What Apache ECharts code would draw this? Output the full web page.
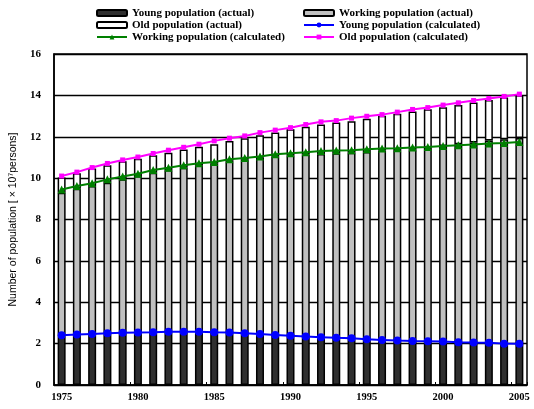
<!DOCTYPE html>
<html>
<head>
<meta charset="utf-8">
<script src="https://cdn.jsdelivr.net/npm/echarts@6/dist/echarts.min.js"></script>
<style>
  html, body { margin: 0; padding: 0; background: #fff; }
  #chart { width: 534px; height: 409px; }
</style>
</head>
<body>
<div id="chart"></div>
<script>
// Years on the category axis
const years = [];
for (let y = 1975; y <= 2005; y++) years.push(String(y));

// Actual population by age group (x10^7 persons)
const youngActual = [2.35, 2.38, 2.42, 2.45, 2.48, 2.50, 2.52, 2.53, 2.54, 2.54,
  2.52, 2.50, 2.46, 2.42, 2.38, 2.33, 2.29, 2.25, 2.22, 2.19,
  2.15, 2.12, 2.09, 2.07, 2.05, 2.03, 2.01, 1.99, 1.98, 1.96, 1.94];
const workingActual = [6.94, 7.11, 7.20, 7.33, 7.46, 7.60, 7.74, 7.86, 7.96, 8.08,
  8.18, 8.34, 8.45, 8.57, 8.68, 8.77, 8.85, 8.92, 8.98, 9.04,
  9.11, 9.21, 9.27, 9.33, 9.42, 9.52, 9.63, 9.73, 9.84, 9.92, 10.00];
const oldActual = [0.74, 0.74, 0.84, 0.84, 0.87, 0.84, 0.84, 0.84, 0.88, 0.90,
  0.94, 0.96, 1.02, 1.08, 1.14, 1.26, 1.34, 1.42, 1.49, 1.52,
  1.61, 1.68, 1.75, 1.82, 1.86, 1.88, 1.90, 1.94, 1.96, 2.02, 2.07];

// Calculated population by age group (x10^7 persons)
const youngCalc = [2.41, 2.44, 2.47, 2.50, 2.53, 2.54, 2.55, 2.57, 2.57, 2.57,
  2.55, 2.54, 2.50, 2.46, 2.42, 2.38, 2.34, 2.31, 2.28, 2.26,
  2.21, 2.18, 2.15, 2.13, 2.12, 2.10, 2.07, 2.05, 2.04, 2.00, 1.99];
const workingCalc = [7.04, 7.18, 7.28, 7.44, 7.55, 7.67, 7.84, 7.93, 8.05, 8.15,
  8.23, 8.37, 8.47, 8.58, 8.73, 8.82, 8.91, 9.00, 9.05, 9.09,
  9.18, 9.25, 9.29, 9.35, 9.39, 9.45, 9.52, 9.57, 9.63, 9.70, 9.76];
const oldCalc = [0.65, 0.67, 0.76, 0.77, 0.80, 0.81, 0.80, 0.85, 0.87, 0.92,
  1.02, 1.02, 1.07, 1.16, 1.17, 1.24, 1.34, 1.41, 1.45, 1.55,
  1.60, 1.64, 1.75, 1.84, 1.90, 1.98, 2.05, 2.13, 2.18, 2.25, 2.31];

const yTicks = { min: 0, max: 16, interval: 2 };

const serif = '"Liberation Serif", "DejaVu Serif", serif';
const legendText = { fontFamily: serif, fontWeight: 'bold', fontSize: 11, color: '#000', lineHeight: 12 };

function barSeries(name, data, color) {
  return {
    name, type: 'bar', stack: 'actual', data, barWidth: 8,
    itemStyle: { color, borderColor: '#000', borderWidth: 1.5 },
    z: 2
  };
}
function lineSeries(name, data, color, symbol, size) {
  return {
    name, type: 'line', stack: 'calc', data,
    symbol, symbolSize: size,
    lineStyle: { color, width: 2 },
    itemStyle: { color },
    z: 5
  };
}

const chart = echarts.init(document.getElementById('chart'));
chart.setOption({
  animation: false,
  backgroundColor: '#fff',
  legend: [
    {
      orient: 'vertical', left: 96, top: 7, itemGap: 0, padding: 0,
      itemWidth: 30, itemHeight: 6,
      textStyle: legendText,
      data: ['Young population (actual)', 'Old population (actual)', 'Working population (calculated)']
    },
    {
      orient: 'vertical', left: 303, top: 7, itemGap: 0, padding: 0,
      itemWidth: 30, itemHeight: 6,
      textStyle: legendText,
      data: ['Working population (actual)', 'Young population (calculated)', 'Old population (calculated)']
    }
  ],
  grid: {
    left: 54, right: 7, top: 54, bottom: 24,
    show: true, borderColor: '#000', borderWidth: 1.5, backgroundColor: 'transparent'
  },
  xAxis: {
    type: 'category', data: years, boundaryGap: true,
    axisLine: { lineStyle: { color: '#000', width: 1.5 } },
    axisTick: { show: true, inside: true, length: 3, interval: 4, lineStyle: { color: '#000' } },
    axisLabel: { interval: 4, margin: 7, fontFamily: serif, fontWeight: 'bold', fontSize: 10.5, color: '#000' }
  },
  yAxis: {
    type: 'value', min: yTicks.min, max: yTicks.max, interval: yTicks.interval,
    name: 'Number of population [ \u00d7 10\u2077persons]',
    nameLocation: 'middle', nameGap: 31,
    nameTextStyle: { fontFamily: '"Liberation Sans", Arial, sans-serif', fontSize: 10.5, color: '#000' },
    axisLine: { show: true, lineStyle: { color: '#000', width: 1.5 } },
    axisTick: { show: false },
    axisLabel: { margin: 13, fontFamily: serif, fontWeight: 'bold', fontSize: 11, color: '#000' },
    splitLine: { show: true, lineStyle: { color: '#000', width: 1.3 } }
  },
  series: [
    barSeries('Young population (actual)', youngActual, '#2f2f2f'),
    barSeries('Working population (actual)', workingActual, '#c0c0c0'),
    barSeries('Old population (actual)', oldActual, '#ffffff'),
    lineSeries('Young population (calculated)', youngCalc, '#0000ff', 'circle', 8),
    lineSeries('Working population (calculated)', workingCalc, '#008000', 'triangle', 8),
    lineSeries('Old population (calculated)', oldCalc, '#ff00ff', 'rect', 5)
  ]
});
</script>
</body>
</html>
